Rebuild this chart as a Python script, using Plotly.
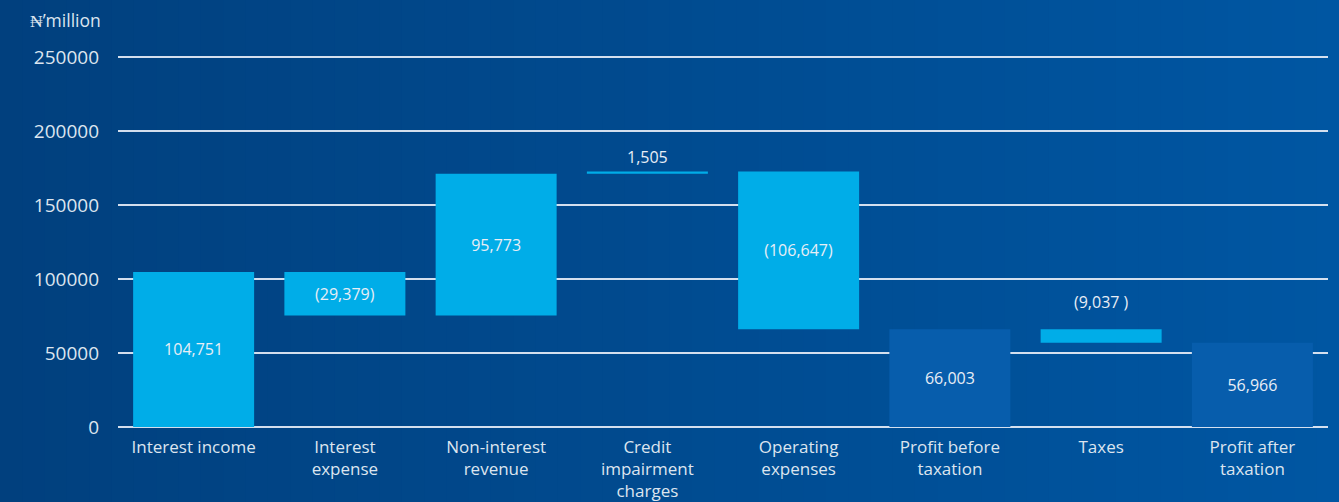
import plotly.graph_objects as go

# Income statement bridge, N'million
categories = [
    "Interest income",
    "Interest<br>expense",
    "Non-interest<br>revenue",
    "Credit<br>impairment<br>charges",
    "Operating<br>expenses",
    "Profit before<br>taxation",
    "Taxes",
    "Profit after<br>taxation",
]
measures = ["relative", "relative", "relative", "relative", "relative", "total", "relative", "total"]
values = [104751, -29379, 95773, 1505, -106647, 0, -9037, 0]
labels = ["104,751", "(29,379)", "95,773", "1,505", "(106,647)", "66,003", "(9,037 )", "56,966"]
label_pos = ["inside", "inside", "inside", "outside", "inside", "inside", "none", "inside"]
y_ticks = [0, 50000, 100000, 150000, 200000, 250000]

W, H = 1339, 502
Y_MAX = 252000
ML, MR, MB = 118, 11, 75
PLOT_H = 370 * Y_MAX / 250000
MT = H - MB - PLOT_H
PW = W - ML - MR

LIGHT = "#00ade8"
DARK = "#075dac"
TEXT = "#dde5ef"
FONT = "Open Sans"

fig = go.Figure()
fig.add_trace(go.Waterfall(
    x=categories,
    y=values,
    measure=measures,
    text=labels,
    texttemplate="%{text}",
    textposition=label_pos,
    insidetextanchor="middle",
    textfont=dict(color="#e8eef6", size=16, family=FONT),
    outsidetextfont=dict(color="#e8eef6", size=16, family=FONT),
    increasing=dict(marker=dict(color=LIGHT)),
    decreasing=dict(marker=dict(color=LIGHT)),
    totals=dict(marker=dict(color=DARK)),
    connector=dict(visible=False),
    cliponaxis=False,
    hoverinfo="skip",
))

# the negative tax step carries its label above the bar
running = 0
tax_top = 0
for cat, m, v in zip(categories, measures, values):
    if cat == "Taxes":
        tax_top = running
    if m == "relative":
        running += v

annotations = [
    dict(
        text=labels[categories.index("Taxes")], x="Taxes", y=tax_top,
        xref="x", yref="y", yshift=27, showarrow=False,
        font=dict(size=16, color="#e8eef6", family=FONT),
    ),
    dict(
        text="\u20a6\u2019million", xref="paper", yref="paper",
        x=(28 - ML) / PW, y=(H - MB - 20) / PLOT_H,
        xanchor="left", yanchor="middle", showarrow=False,
        font=dict(size=17.5, color=TEXT, family=FONT),
    ),
]

# horizontal background gradient built from thin strips
shapes = []
n = 60
c0 = (0x01, 0x40, 0x7e)
c1 = (0x00, 0x56, 0xa2)
for i in range(n):
    t = i / (n - 1)
    r = round(c0[0] + (c1[0] - c0[0]) * t)
    g = round(c0[1] + (c1[1] - c0[1]) * t)
    b = round(c0[2] + (c1[2] - c0[2]) * t)
    px0 = W * i / n
    px1 = W * (i + 1) / n + 1
    shapes.append(dict(
        type="rect", xref="paper", yref="paper", layer="below",
        x0=(px0 - ML) / PW, x1=(px1 - ML) / PW,
        y0=-MB / PLOT_H - 0.01, y1=1 + MT / PLOT_H + 0.01,
        line=dict(width=0), fillcolor=f"rgb({r},{g},{b})",
    ))

fig.update_layout(
    width=W, height=H,
    margin=dict(l=ML, r=MR, t=MT, b=MB, autoexpand=False),
    paper_bgcolor="rgb(1,72,140)",
    plot_bgcolor="rgba(0,0,0,0)",
    showlegend=False,
    waterfallgap=0.2,
    shapes=shapes,
    annotations=annotations,
    font=dict(family=FONT, color=TEXT),
    xaxis=dict(
        showgrid=False, showline=False, zeroline=False,
        tickfont=dict(size=17, color=TEXT, family=FONT),
        ticks="", ticklabelstandoff=8, automargin=False, fixedrange=True,
    ),
    yaxis=dict(
        range=[0, Y_MAX],
        tickvals=y_ticks,
        ticktext=[str(v) for v in y_ticks],
        showgrid=True, gridcolor="rgba(235,240,248,0.9)", gridwidth=1.5,
        zeroline=True, zerolinecolor="rgba(235,240,248,0.9)", zerolinewidth=1.5,
        showline=False, ticks="",
        ticklabelstandoff=18, automargin=False,
        tickfont=dict(size=19, color=TEXT, family=FONT),
        fixedrange=True,
    ),
)

fig.write_html("out.html")
